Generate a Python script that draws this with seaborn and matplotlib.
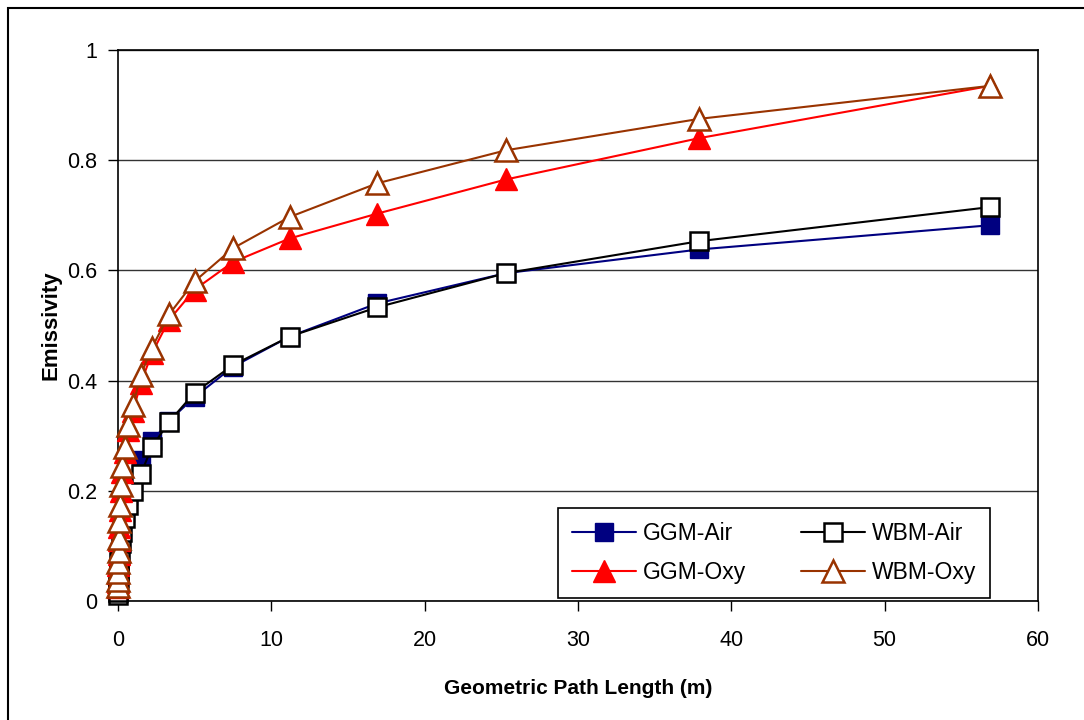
import matplotlib
matplotlib.use("Agg")
import matplotlib.pyplot as plt
import seaborn as sns
import pandas as pd
from matplotlib.patches import Rectangle

# Geometric path length (m)
path_length = [56.9, 37.9, 25.3, 16.9, 11.2, 7.49, 4.99, 3.33, 2.22, 1.48,
               0.987, 0.658, 0.439, 0.292, 0.195, 0.130, 0.0867, 0.0578,
               0.0385, 0.0257, 0.0171, 0.0114, 0.0076]

ggm_air = [0.682, 0.638, 0.595, 0.540, 0.480, 0.425, 0.370, 0.327, 0.290, 0.255,
           0.218, 0.190, 0.160, 0.135, 0.110, 0.090, 0.075, 0.060,
           0.045, 0.035, 0.025, 0.018, 0.012]
wbm_air = [0.715, 0.653, 0.595, 0.533, 0.480, 0.428, 0.378, 0.325, 0.280, 0.230,
           0.200, 0.175, 0.150, 0.125, 0.105, 0.085, 0.070, 0.055,
           0.042, 0.032, 0.023, 0.016, 0.011]
ggm_oxy = [0.935, 0.840, 0.765, 0.703, 0.658, 0.615, 0.565, 0.510, 0.450, 0.395,
           0.345, 0.310, 0.270, 0.235, 0.200, 0.165, 0.135, 0.110,
           0.085, 0.065, 0.050, 0.035, 0.025]
wbm_oxy = [0.935, 0.875, 0.818, 0.758, 0.697, 0.640, 0.580, 0.520, 0.460, 0.410,
           0.355, 0.320, 0.280, 0.245, 0.210, 0.175, 0.145, 0.115,
           0.090, 0.070, 0.052, 0.038, 0.027]

series_names = ["GGM-Air", "GGM-Oxy", "WBM-Air", "WBM-Oxy"]
series_values = [ggm_air, ggm_oxy, wbm_air, wbm_oxy]

rows = []
for name, vals in zip(series_names, series_values):
    for x, y in zip(path_length, vals):
        rows.append({"L": x, "E": y, "series": name})
df = pd.DataFrame(rows)

sns.set_style("white")
plt.rcParams["font.family"] = ["Liberation Sans", "DejaVu Sans"]
plt.rcParams["text.color"] = "black"
plt.rcParams["axes.labelcolor"] = "black"
plt.rcParams["xtick.color"] = "black"
plt.rcParams["ytick.color"] = "black"

fig = plt.figure(figsize=(10.84, 7.2), dpi=100)
ax = fig.add_axes([118/1084, 1 - 601/720, 920/1084, 551/720])

styles = {
    "GGM-Air": dict(color="#000080", marker="s", mfc="#000080", mec="#000080", ms=13.5, lw=1.5),
    "GGM-Oxy": dict(color="#FF0000", marker="^", mfc="#FF0000", mec="#FF0000", ms=16, lw=1.5),
    "WBM-Air": dict(color="#000000", marker="s", mfc="white", mec="#000000", ms=13, lw=1.5, mew=1.8),
    "WBM-Oxy": dict(color="#993300", marker="^", mfc="white", mec="#993300", ms=15.5, lw=1.5, mew=1.8),
}
zorders = {"GGM-Air": 3, "WBM-Air": 4, "GGM-Oxy": 5, "WBM-Oxy": 6}

for name in series_names:
    sub = df[df["series"] == name]
    st = styles[name]
    sns.lineplot(data=sub, x="L", y="E", ax=ax, color=st["color"], lw=st["lw"],
                 marker=st["marker"], markersize=st["ms"],
                 markerfacecolor=st["mfc"], markeredgecolor=st["mec"],
                 markeredgewidth=st.get("mew", 1.0), label=name,
                 zorder=zorders[name], sort=True, estimator=None)

ax.set_xlim(0, 60)
ax.set_ylim(0, 1)
ax.set_xticks([0, 10, 20, 30, 40, 50, 60])
ax.set_yticks([0, 0.2, 0.4, 0.6, 0.8, 1.0])
ax.set_yticklabels(["0", "0.2", "0.4", "0.6", "0.8", "1"])
ax.yaxis.grid(True, color="#333333", lw=1.0)
ax.xaxis.grid(False)
for line in ax.lines:
    line.set_clip_on(False)

for sp in ["left", "bottom", "right", "top"]:
    ax.spines[sp].set_visible(True)
    ax.spines[sp].set_color("black")
    ax.spines[sp].set_linewidth(1.2)

ax.tick_params(axis="both", which="major", direction="out", length=7, width=1,
               color="black", labelsize=15.5, pad=8, left=True, bottom=True,
               labelcolor="black")
ax.tick_params(axis="x", pad=14)

ax.set_xlabel("Geometric Path Length (m)", fontsize=15, fontweight="bold", labelpad=20)
ax.set_ylabel("Emissivity", fontsize=16, fontweight="bold", labelpad=4)

leg = ax.legend(loc="lower left", bbox_to_anchor=(0.478, 0.006, 0.47, 0.172),
                mode="expand", ncol=2, fontsize=16.5, frameon=True, fancybox=False,
                edgecolor="black", borderpad=0.6, handlelength=2.8,
                handletextpad=0.3, labelspacing=0.7, borderaxespad=0)
leg.get_frame().set_linewidth(1.2)
leg.get_frame().set_alpha(1)
leg.set_zorder(10)
for t in leg.get_texts():
    t.set_color("black")

fig.patches.append(Rectangle((8/1084, -0.05), 1.2, 1 - 8/720 + 0.05,
                             transform=fig.transFigure, fill=False,
                             edgecolor="black", lw=1.5))

fig.savefig("out.png", dpi=100)
